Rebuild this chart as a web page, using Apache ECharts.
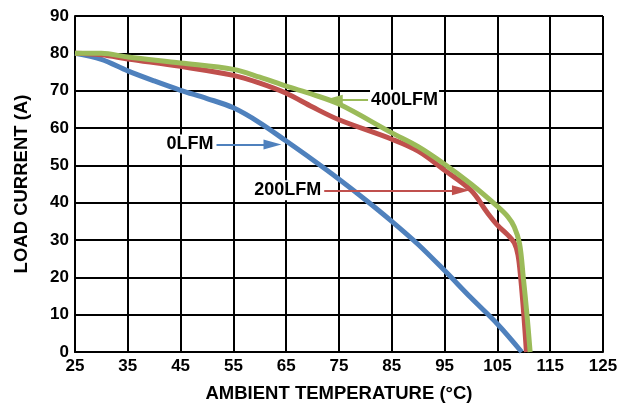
<!DOCTYPE html>
<html>
<head>
<meta charset="utf-8">
<script src="https://cdn.jsdelivr.net/npm/echarts@6/dist/echarts.min.js"></script>
<style>
  html, body { margin: 0; padding: 0; background: #fff; }
  #chart { width: 628px; height: 408px; }
</style>
</head>
<body>
<div id="chart"></div>
<script>
// ---- data ----
const xTicks = [25, 35, 45, 55, 65, 75, 85, 95, 105, 115, 125];
const yTicks = [0, 10, 20, 30, 40, 50, 60, 70, 80, 90];

const seriesNames = ['0LFM', '200LFM', '400LFM'];

const temp0 = [25, 30, 35, 40, 45, 50, 55, 60, 65, 70, 75, 80, 85, 90, 95, 100, 105, 109.6];
const load0 = [80, 78.4, 75.3, 72.6, 70.1, 67.9, 65.4, 61.4, 56.5, 51.5, 46.3, 40.8, 35, 28.8, 21.8, 14.5, 7.5, 0];

const temp200 = [25, 30, 35, 45, 55, 60, 65, 70, 75, 85, 90, 95, 100, 103, 105, 107, 108.2, 108.9, 109.4, 110, 110.5];
const load200 = [80, 79.6, 78.5, 76.5, 74.1, 72, 69.3, 65.6, 62.2, 57, 53.8, 48.7, 43.3, 37.5, 34, 31.3, 29.2, 26, 20, 10, 0];

const temp400 = [25, 30, 35, 45, 55, 60, 65, 70, 75, 85, 90, 95, 100, 105, 107, 108.2, 109.2, 109.9, 110.6, 111.2];
const load400 = [80, 80, 79, 77.4, 75.7, 73.6, 71.2, 69, 66.4, 58.7, 55, 50.3, 45, 39, 36.2, 33.5, 29, 20, 10, 0];

// annotation arrows: [startT, endT, load]
const arrow0 = [51.8, 62.4, 55.6];
const arrow200 = [72.2, 98.1, 43.3];
const arrow400 = [80.5, 74.0, 67.6];

// ---- chart ----
const FONT = '"Liberation Sans", Arial, sans-serif';
const colors = ['#4F81BD', '#C0504D', '#9BBB59'];

function pairs(xs, ys) { return xs.map((x, i) => [x, ys[i]]); }

function annot(arrow, text, color) {
  return {
    silent: true,
    symbol: ['none', 'triangle'],
    symbolSize: [10, 18],
    lineStyle: { color: color, width: 2, type: 'solid' },
    label: {
      show: true,
      position: 'start',
      distance: 2,
      formatter: text,
      color: '#000',
      fontFamily: FONT,
      fontWeight: 'bold',
      fontSize: 18,
      backgroundColor: '#fff',
      padding: [1, 1]
    },
    emphasis: { disabled: true },
    data: [[{ coord: [arrow[0], arrow[2]] }, { coord: [arrow[1], arrow[2]] }]]
  };
}

const chart = echarts.init(document.getElementById('chart'), null, { renderer: 'canvas' });

const axisText = { color: '#000', fontFamily: FONT, fontWeight: 'bold', fontSize: 17 };
const nameText = { color: '#000', fontFamily: FONT, fontWeight: 'bold', fontSize: 18.5 };

chart.setOption({
  animation: false,
  backgroundColor: '#fff',
  grid: { left: 75, right: 25, top: 16, bottom: 54, containLabel: false },
  xAxis: {
    type: 'value',
    min: xTicks[0],
    max: xTicks[xTicks.length - 1],
    interval: 10,
    name: 'AMBIENT TEMPERATURE (°C)',
    nameLocation: 'middle',
    nameGap: 32,
    nameTextStyle: nameText,
    axisLine: { show: true, lineStyle: { color: '#000', width: 2 } },
    axisTick: { show: false },
    axisLabel: Object.assign({ margin: 6 }, axisText),
    splitLine: { show: true, lineStyle: { color: '#000', width: 2 } }
  },
  yAxis: {
    type: 'value',
    min: yTicks[0],
    max: yTicks[yTicks.length - 1],
    interval: 10,
    name: 'LOAD CURRENT (A)',
    nameLocation: 'middle',
    nameGap: 44,
    nameTextStyle: nameText,
    axisLine: { show: true, lineStyle: { color: '#000', width: 2 } },
    axisTick: { show: false },
    axisLabel: Object.assign({ margin: 6 }, axisText),
    splitLine: { show: true, lineStyle: { color: '#000', width: 2 } }
  },
  series: [
    {
      name: seriesNames[0], type: 'line', data: pairs(temp0, load0),
      smooth: 0.35, showSymbol: false,
      lineStyle: { color: colors[0], width: 5 }, itemStyle: { color: colors[0] },
      z: 3,
      markLine: annot(arrow0, seriesNames[0], colors[0])
    },
    {
      name: seriesNames[1], type: 'line', data: pairs(temp200, load200),
      smooth: 0.35, showSymbol: false,
      lineStyle: { color: colors[1], width: 5 }, itemStyle: { color: colors[1] },
      z: 4,
      markLine: annot(arrow200, seriesNames[1], colors[1])
    },
    {
      name: seriesNames[2], type: 'line', data: pairs(temp400, load400),
      smooth: 0.35, showSymbol: false,
      lineStyle: { color: colors[2], width: 5 }, itemStyle: { color: colors[2] },
      z: 5,
      markLine: annot(arrow400, seriesNames[2], colors[2])
    }
  ]
});
</script>
</body>
</html>
